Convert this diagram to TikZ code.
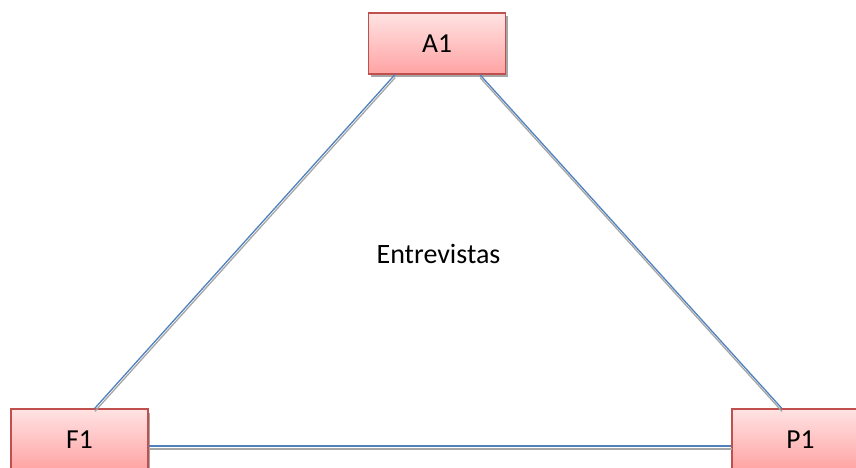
\documentclass[tikz,border=0pt]{standalone}
\usepackage{fontspec}
\setmainfont{Carlito}
\usetikzlibrary{calc,shadows}
\definecolor{boxborder}{HTML}{C0504D}
\definecolor{boxtop}{HTML}{FFE3E3}
\definecolor{boxbot}{HTML}{FFA3A3}
\definecolor{linkblue}{HTML}{4F81BD}
\definecolor{linkshadow}{HTML}{A6A6A6}
\tikzset{
  entity/.style={draw=boxborder, line width=1.2pt, top color=boxtop, bottom color=boxbot,
    minimum width=137pt, minimum height=61pt, inner sep=0pt, font=\fontsize{27.5}{30}\selectfont,
    drop shadow={shadow xshift=2pt, shadow yshift=-3.5pt, fill=linkshadow, opacity=1}},
  linkline/.style={draw=linkblue, line width=1.3pt},
  linkshade/.style={draw=linkshadow, line width=1.3pt, transform canvas={shift={(0.2pt,-3pt)}}},
  label/.style={font=\fontsize{28}{30}\selectfont, inner sep=0pt}
}
\begin{document}
\begin{tikzpicture}[x=1pt,y=-1pt]
\useasboundingbox (0,0) rectangle (856,468);
\node[entity] (A1) at (437,43.5) {A1};
\node[entity] (F1) at (79.5,439.5) {F1};
\node[entity] (P1) at (800.5,439.5) {P1};
\node[label, anchor=base] (E) at (438.5,263) {Entrevistas};
\coordinate (a1l) at ($(A1.south west)!0.196!(A1.south east)$);
\coordinate (a1r) at ($(A1.south west)!0.81!(A1.south east)$);
\coordinate (f1t) at ($(F1.north west)!0.61!(F1.north east)$);
\coordinate (p1t) at ($(P1.north west)!0.365!(P1.north east)$);
\coordinate (f1r) at ($(F1.east)+(0,6.5)$);
\coordinate (p1l) at ($(P1.west)+(0,6.5)$);
\draw[linkshade] (a1l) -- (f1t);
\draw[linkshade] (a1r) -- (p1t);
\draw[linkshade] (f1r) -- (p1l);
\draw[linkline] (a1l) -- (f1t);
\draw[linkline] (a1r) -- (p1t);
\draw[linkline] (f1r) -- (p1l);
\end{tikzpicture}
\end{document}
